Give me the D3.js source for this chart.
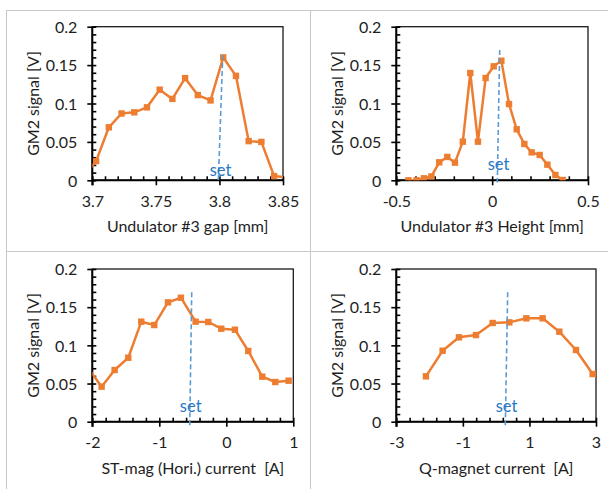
<!DOCTYPE html>
<html>
<head>
<meta charset="utf-8">
<script src="https://cdn.jsdelivr.net/npm/d3@7"></script>
<style>
  html, body { margin: 0; padding: 0; background: #fff; }
  svg { display: block; }
  text { font-family: Lato, "Open Sans", sans-serif; fill: #1e1e1e; white-space: pre; }
</style>
</head>
<body>
<svg id="chart" width="608" height="489"></svg>
<script>
// ---------------- data ----------------
const gapX = [3.693, 3.703, 3.713, 3.723, 3.733, 3.743, 3.753, 3.763, 3.773, 3.783, 3.793, 3.803, 3.813, 3.823, 3.833, 3.843, 3.853];
const gapY = [0.004, 0.025, 0.069, 0.087, 0.0885, 0.095, 0.118, 0.106, 0.133, 0.111, 0.104, 0.160, 0.136, 0.051, 0.050, 0.0055, 0.004];

const heightX = [-0.437, -0.394, -0.356, -0.317, -0.276, -0.234, -0.194, -0.153, -0.114, -0.074, -0.034, 0.008, 0.048, 0.088, 0.128, 0.168, 0.206, 0.248, 0.288, 0.330, 0.368];
const heightY = [0.000, 0.000, 0.0026, 0.005, 0.0234, 0.0304, 0.023, 0.0503, 0.1397, 0.0503, 0.1332, 0.1484, 0.1557, 0.0993, 0.0664, 0.0473, 0.0364, 0.033, 0.0204, 0.0069, 0.0004];

const stX = [-2.06, -1.861, -1.667, -1.463, -1.269, -1.075, -0.871, -0.677, -0.458, -0.269, -0.075, 0.129, 0.328, 0.537, 0.731, 0.930];
const stY = [0.070, 0.0459, 0.0677, 0.0838, 0.131, 0.1266, 0.1563, 0.1624, 0.131, 0.1306, 0.1218, 0.1205, 0.0926, 0.059, 0.052, 0.0537];

const qX = [-2.109, -1.608, -1.117, -0.606, -0.105, 0.396, 0.907, 1.397, 1.898, 2.399, 2.900];
const qY = [0.0594, 0.093, 0.1105, 0.1135, 0.1293, 0.1301, 0.1354, 0.1354, 0.1179, 0.0939, 0.0624];

// "set" marker lines: [x at top, x at bottom], [y top, y bottom] in data units
const setGapX = [3.8026, 3.7991];
const setHeightX = [0.0394, 0.0269];
const setStX = [-0.516, -0.546];
const setQX = [0.347, 0.274];
const setTopY = [0.1631, 0.1697, 0.1695, 0.1695];
const setBottomY = [-0.003, -0.003, -0.0066, -0.0066];
const setLabelY = [0.0056, 0.0134, 0.0123, 0.0131];

// axes
const yTicks = [0, 0.05, 0.1, 0.15, 0.2];
const yTickLabels = ["0", "0.05", "0.1", "0.15", "0.2"];
const gapTicks = [3.7, 3.75, 3.8, 3.85];
const gapTickLabels = ["3.7", "3.75", "3.8", "3.85"];
const heightTicks = [-0.5, 0, 0.5];
const heightTickLabels = ["-0.5", "0", "0.5"];
const stTicks = [-2, -1, 0, 1];
const stTickLabels = ["-2", "-1", "0", "1"];
const qTicks = [-3, -1, 1, 3];
const qTickLabels = ["-3", "-1", "1", "3"];

const xTitles = ["Undulator #3 gap [mm]", "Undulator #3 Height [mm]", "ST-mag (Hori.) current  [A]", "Q-magnet current  [A]"];
const yTitle = "GM2 signal [V]";
const setLabel = "set";

// ---------------- layout ----------------
const panels = [
  { x: gapX, y: gapY, setX: setGapX, dom: [3.7, 3.85], ticks: gapTicks, labels: gapTickLabels, minor: 0.01,
    box: { l: 92.3, r: 283, t: 26.7, b: 180.3 } },
  { x: heightX, y: heightY, setX: setHeightX, dom: [-0.5, 0.5], ticks: heightTicks, labels: heightTickLabels, minor: 0.1,
    box: { l: 396.3, r: 588, t: 26.7, b: 180.3 } },
  { x: stX, y: stY, setX: setStX, dom: [-2, 1], ticks: stTicks, labels: stTickLabels, minor: 0.2,
    box: { l: 92.3, r: 293.3, t: 269, b: 421.7 } },
  { x: qX, y: qY, setX: setQX, dom: [-3, 3], ticks: qTicks, labels: qTickLabels, minor: 0.4,
    box: { l: 396.3, r: 596, t: 269, b: 421.7 } }
];

const ORANGE = "#ED7D31";
const BLUE_LINE = "#5B9BD5";
const BLUE_TEXT = "#2878C4";
const FS = 16;

const svg = d3.select("#chart");

// separator lines
const sep = svg.append("g").attr("stroke", "#c8c8c8").attr("stroke-width", 1);
sep.append("line").attr("x1", 6).attr("x2", 608).attr("y1", 10.5).attr("y2", 10.5);
sep.append("line").attr("x1", 6.5).attr("x2", 6.5).attr("y1", 10).attr("y2", 489);
sep.append("line").attr("x1", 310.5).attr("x2", 310.5).attr("y1", 10).attr("y2", 489);
sep.append("line").attr("x1", 6).attr("x2", 608).attr("y1", 251.5).attr("y2", 251.5);

panels.forEach((p, i) => {
  const b = p.box;
  const x = d3.scaleLinear().domain(p.dom).range([b.l, b.r]);
  const y = d3.scaleLinear().domain([0, 0.2]).range([b.b, b.t]);
  const g = svg.append("g");

  const clipId = "clip" + i;
  svg.append("clipPath").attr("id", clipId)
    .append("rect").attr("x", b.l).attr("y", b.t).attr("width", b.r - b.l).attr("height", b.b - b.t);

  // frame
  g.append("rect").attr("x", b.l).attr("y", b.t).attr("width", b.r - b.l).attr("height", b.b - b.t)
    .attr("fill", "none").attr("stroke", "#1a1a1a").attr("stroke-width", 1.3);

  // minor ticks (inside)
  const minorX = d3.range(p.dom[0], p.dom[1] + p.minor / 2, p.minor);
  const minorY = d3.range(0, 0.2 + 0.005, 0.01);
  const axStyle = sel => {
    sel.select(".domain").remove();
    sel.selectAll("text").remove();
    sel.selectAll("line").attr("stroke", "#000").attr("stroke-width", 1.6);
  };
  g.append("g").attr("transform", `translate(0,${b.b})`)
    .call(d3.axisBottom(x).tickValues(minorX).tickSize(-4).tickFormat(""))
    .call(axStyle);
  g.append("g").attr("transform", `translate(${b.l},0)`)
    .call(d3.axisLeft(y).tickValues(minorY).tickSize(-4).tickFormat(""))
    .call(axStyle);

  // major ticks (cross: outside part)
  const xAx = g.append("g").attr("transform", `translate(0,${b.b})`)
    .call(d3.axisBottom(x).tickValues(p.ticks).tickSize(5).tickFormat((d, k) => p.labels[k]));
  xAx.select(".domain").remove();
  xAx.selectAll("line").attr("stroke", "#000").attr("stroke-width", 1.6);
  xAx.selectAll("text").attr("y", 26.5).attr("dy", null).attr("font-size", FS)
    .attr("font-family", "Lato").attr("fill", "#1e1e1e");

  const yAx = g.append("g").attr("transform", `translate(${b.l},0)`)
    .call(d3.axisLeft(y).tickValues(yTicks).tickSize(5).tickFormat((d, k) => yTickLabels[k]));
  yAx.select(".domain").remove();
  yAx.selectAll("line").attr("stroke", "#000").attr("stroke-width", 1.6);
  yAx.selectAll("text").attr("x", -15).attr("dy", "0.36em").attr("font-size", FS)
    .attr("font-family", "Lato").attr("fill", "#1e1e1e");

  // axis lines (bold)
  g.append("line").attr("x1", b.l).attr("x2", b.r).attr("y1", b.b).attr("y2", b.b)
    .attr("stroke", "#000").attr("stroke-width", 2);
  g.append("line").attr("x1", b.l).attr("x2", b.l).attr("y1", b.t).attr("y2", b.b + 5)
    .attr("stroke", "#000").attr("stroke-width", 2);

  // titles
  g.append("text").attr("x", (b.l + b.r) / 2).attr("y", b.b + 52)
    .attr("text-anchor", "middle").attr("font-size", FS).attr("xml:space", "preserve").text(xTitles[i]);
  g.append("text")
    .attr("transform", `translate(${b.l - 59},${(b.t + b.b) / 2}) rotate(-90)`)
    .attr("text-anchor", "middle").attr("dy", "0.35em").attr("font-size", FS).text(yTitle);

  // data
  const pts = p.x.map((v, k) => [v, p.y[k]]);
  const dg = g.append("g").attr("clip-path", `url(#${clipId})`);
  dg.append("path").datum(pts)
    .attr("d", d3.line().x(d => x(d[0])).y(d => y(d[1])))
    .attr("fill", "none").attr("stroke", ORANGE).attr("stroke-width", 2.5).attr("stroke-linejoin", "round");
  dg.selectAll("rect.m").data(pts).join("rect").attr("class", "m")
    .attr("x", d => x(d[0]) - 3.2).attr("y", d => y(d[1]) - 3.2)
    .attr("width", 6.4).attr("height", 6.4).attr("fill", ORANGE);

  // set line + label
  g.append("line")
    .attr("x1", x(p.setX[0])).attr("y1", y(setTopY[i]))
    .attr("x2", x(p.setX[1])).attr("y2", y(setBottomY[i]))
    .attr("stroke", BLUE_LINE).attr("stroke-width", 1.6).attr("stroke-dasharray", "5,3");
  g.append("text")
    .attr("x", x((p.setX[0] + p.setX[1]) / 2)).attr("y", y(setLabelY[i]))
    .attr("text-anchor", "middle").attr("font-size", 16.5)
    .attr("font-family", "'Liberation Sans', Arial, sans-serif")
    .style("fill", BLUE_TEXT).text(setLabel);
});
</script>
</body>
</html>
